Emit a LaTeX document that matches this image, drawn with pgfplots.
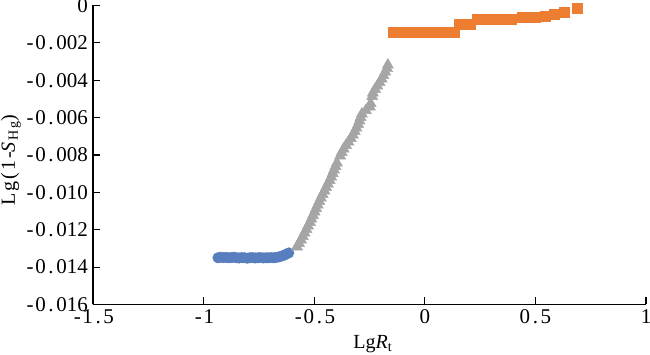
\documentclass[border=0pt]{standalone}
\usepackage{fontspec}
\setmainfont{Liberation Serif}
\newfontfamily\lsfont[LetterSpace=10]{Liberation Serif}
\usepackage{pgfplots}
\pgfplotsset{compat=1.18}
\definecolor{cblue}{RGB}{88,126,192}
\definecolor{cgray}{RGB}{165,165,165}
\definecolor{corange}{RGB}{237,125,49}
\makeatletter
\newcommand\hw[1]{\hw@i#1\relax}
\def\hw@i#1{\ifx#1\relax\else\makebox[0.5em]{#1}\expandafter\hw@i\fi}
\makeatother
\begin{document}
\begin{tikzpicture}
\begin{axis}[
  scale only axis,
  width=553pt, height=299pt,
  xmin=-1.5, xmax=1, ymin=-0.016, ymax=0,
  scaled y ticks=false, scaled x ticks=false,
  axis x line*=bottom, axis y line*=left,
  axis line style={line width=1.2pt, -},
  tick align=inside,
  major tick length=7pt,
  tick style={line width=1.2pt, black},
  xtick={-1.5,-1,-0.5,0,0.5,1},
  xticklabels={\hw{-1.5},\hw{-1},\hw{-0.5},\hw{0},\hw{0.5},\hw{1}},
  ytick={-0.016,-0.014,-0.012,-0.010,-0.008,-0.006,-0.004,-0.002,0},
  yticklabels={\hw{-0.016},\hw{-0.014},\hw{-0.012},\hw{-0.010},\hw{-0.008},\hw{-0.006},\hw{-0.004},\hw{-0.002},\hw{0}},
  ticklabel style={font=\fontsize{21}{25}\selectfont},
  yticklabel style={inner sep=0pt, anchor=east, xshift=-5pt},
  xticklabel style={inner sep=0pt, anchor=north, yshift=-5pt},
  xlabel={Lg\textit{R}\textsubscript{t}},
  ylabel={\lsfont Lg(1-\textit{S}\textsubscript{Hg})},
  label style={font=\fontsize{20}{24}\selectfont},
  xlabel style={at={(rel axis cs:0.506,-0.147)}, anchor=base, inner sep=0pt},
  ylabel style={at={(rel axis cs:-0.130,0.483)}, anchor=south, inner sep=0pt},
  clip=false,
]
\addplot[only marks, mark=*, mark size=5.3pt, color=cblue, mark options={draw=none, fill=cblue}] coordinates {
(-0.935,-0.01350) (-0.923,-0.01347) (-0.911,-0.01349) (-0.899,-0.01348)
(-0.887,-0.01350) (-0.875,-0.01349) (-0.863,-0.01347) (-0.851,-0.01350)
(-0.839,-0.01351) (-0.827,-0.01349) (-0.815,-0.01350) (-0.803,-0.01352)
(-0.791,-0.01350) (-0.779,-0.01349) (-0.767,-0.01351) (-0.755,-0.01350)
(-0.743,-0.01349) (-0.731,-0.01351) (-0.719,-0.01350) (-0.707,-0.01350)
(-0.695,-0.01349) (-0.683,-0.01350) (-0.671,-0.01348) (-0.659,-0.01345)
(-0.647,-0.01341) (-0.636,-0.01336) (-0.625,-0.01330) (-0.615,-0.01324)
};
\addplot[only marks, mark=triangle*, mark size=6.5pt, color=cgray, mark options={draw=none, fill=cgray}] coordinates {
(-0.5779,-0.012914) (-0.5688,-0.012727) (-0.5598,-0.012540) (-0.5517,-0.012353)
(-0.5436,-0.012166) (-0.5354,-0.011979) (-0.5282,-0.011791) (-0.5192,-0.011604)
(-0.5129,-0.011417) (-0.5056,-0.011230) (-0.4984,-0.011043) (-0.4916,-0.010856)
(-0.4844,-0.010668) (-0.4772,-0.010481) (-0.4700,-0.010294) (-0.4623,-0.010107)
(-0.4542,-0.009920) (-0.4465,-0.009733) (-0.4384,-0.009545) (-0.4303,-0.009358)
(-0.4235,-0.009171) (-0.4167,-0.008984) (-0.4104,-0.008797) (-0.4036,-0.008610)
(-0.3973,-0.008422) (-0.3828,-0.008048) (-0.3756,-0.007861)
(-0.3670,-0.007674) (-0.3562,-0.007487) (-0.3454,-0.007299) (-0.3345,-0.007112)
(-0.3251,-0.006925) (-0.3169,-0.006738) (-0.3093,-0.006551) (-0.3016,-0.006364)
(-0.2957,-0.006176) (-0.2903,-0.005989) (-0.2844,-0.005802) (-0.2664,-0.005615)
(-0.2483,-0.005428) (-0.2451,-0.005241) (-0.2379,-0.004866)
(-0.2348,-0.004679) (-0.2248,-0.004492) (-0.2149,-0.004305) (-0.2045,-0.004118)
(-0.1950,-0.003930) (-0.1869,-0.003743) (-0.1792,-0.003556) (-0.1706,-0.003369)
(-0.1670,-0.003182)
};
\addplot[only marks, mark=square*, mark size=5pt, color=corange, mark options={draw=none, fill=corange}] coordinates {
(-0.145,-0.00144) (-0.131,-0.00144) (-0.117,-0.00144) (-0.103,-0.00144)
(-0.089,-0.00144) (-0.075,-0.00144) (-0.061,-0.00144) (-0.047,-0.00144)
(-0.033,-0.00144) (-0.019,-0.00144) (-0.005,-0.00144) (0.009,-0.00144)
(0.023,-0.00144) (0.037,-0.00144) (0.051,-0.00144) (0.065,-0.00144)
(0.079,-0.00144) (0.093,-0.00144) (0.107,-0.00144) (0.121,-0.00144)
(0.135,-0.00144)
(0.155,-0.00099) (0.170,-0.00099) (0.185,-0.00099) (0.204,-0.00099)
(0.235,-0.00075) (0.255,-0.00075) (0.275,-0.00075) (0.295,-0.00075)
(0.315,-0.00075) (0.335,-0.00075) (0.355,-0.00075) (0.375,-0.00075) (0.390,-0.00075)
(0.440,-0.00064) (0.460,-0.00064) (0.480,-0.00064) (0.500,-0.00064)
(0.543,-0.00056) (0.584,-0.00048) (0.629,-0.00037) (0.688,-0.00016)
};
\end{axis}
\pgfresetboundingbox
\path ([shift={(-93pt,-50.3pt)}]current axis.south west) rectangle ([shift={(4pt,5.5pt)}]current axis.north east);
\end{tikzpicture}
\end{document}
